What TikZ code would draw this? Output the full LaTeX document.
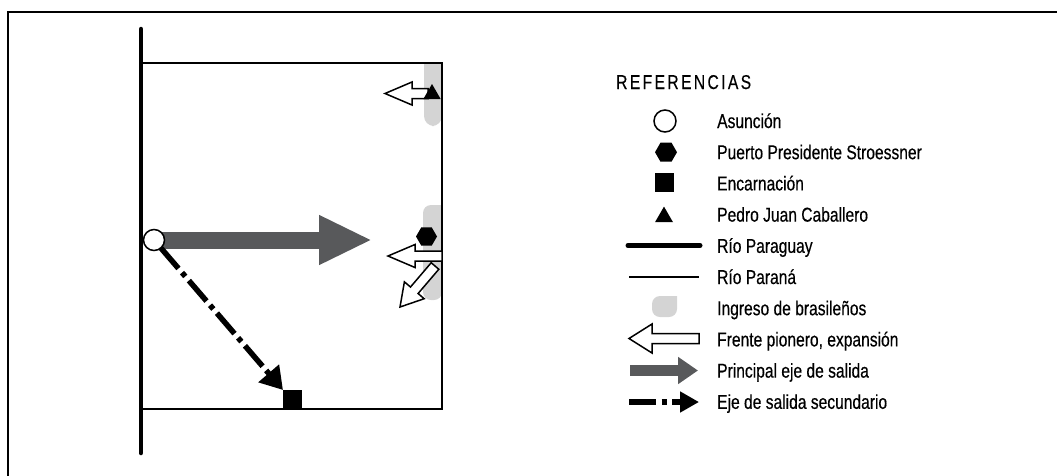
\documentclass[tikz,border=0pt]{standalone}
\usepackage{fontspec}
\setmainfont{Liberation Sans}[FakeStretch=0.78, FakeBold=0.4]
\usetikzlibrary{arrows.meta}
\usetikzlibrary{shapes.geometric}
\usetikzlibrary{calc}
\usetikzlibrary{backgrounds}

\definecolor{ingresogray}{HTML}{D4D4D4}
\definecolor{salidagray}{HTML}{58595B}

\tikzset{
  every node/.append style={font=\fontsize{20}{22}\selectfont},
  every path/.append style={line join=miter}
}
\tikzstyle{marco} = [line width=2.5pt]
\tikzstyle{rioparaguay} = [line width=4.5pt, line cap=round]
\tikzstyle{rioparana} = [line width=2pt]
\tikzstyle{ingreso} = [fill=ingresogray]
\tikzstyle{frente} = [draw=black, fill=white, line width=1.5pt]
\tikzstyle{principal} = [draw=salidagray, line width=17pt, -{Triangle[length=53pt, width=46pt]}]
\tikzstyle{secundario} = [line width=5.5pt, dash pattern=on 27pt off 5.5pt on 5pt off 5.5pt, -{Triangle[length=22pt, width=26pt]}]
\tikzstyle{ciudad} = [inner sep=0pt, outer sep=0pt, fill=black]
\tikzstyle{leyenda} = [anchor=base west, inner sep=0pt]

\newcommand\frente[6]{
  % #1 - name of the arrow
  % #2 - start of the shaft
  % #3 - tip
  % #4 - half width of the shaft
  % #5 - half width of the head
  % #6 - length of the head
  % for example: \frente{f1}{428,94}{385,94}{5pt}{11pt}{27pt}
  \coordinate (#1-b) at ($(#3)!#6!(#2)$);
  \draw[frente] ($(#2)!#4!90:(#3)$) -- ($(#1-b)!#4!90:(#3)$) -- ($(#1-b)!#5!90:(#3)$)
    -- (#3) -- ($(#1-b)!#5!-90:(#3)$) -- ($(#1-b)!#4!-90:(#3)$) -- ($(#2)!#4!-90:(#3)$) -- cycle;
}

\begin{document}
\begin{tikzpicture}[x=1pt, y=-1pt]
  \useasboundingbox (0,0) rectangle (1057,475);
  \draw[marco] (8,476) -- (8,12) -- (1058,12);

  % zones of brazilian settlers
  \fill[ingreso] (442,63) -- (424,63) {[rounded corners=10pt] -- (424,126) -- (442,126)} -- cycle;
  \fill[ingreso] (442,205) {[rounded corners=8pt] -- (423,205) -- (423,300) -- (442,300)} -- cycle;

  % rivers
  \draw[rioparaguay] (141,29) -- (141,453);
  \draw[rioparana] (141,63) -- (442,63) -- (442,409) -- (141,409);

  % pioneer fronts
  \frente{f1}{428,93.5}{385,93.5}{5pt}{11.5pt}{27pt}
  \frente{f3}{435,266}{400,307}{5pt}{13pt}{22pt}
  \frente{f2}{442,256}{388,256}{5pt}{11.5pt}{27pt}

  % cities
  \node[ciudad, circle, draw=black, fill=white, line width=1.5pt, minimum size=21pt] (asuncion) at (154,240) {};
  \node[ciudad, minimum size=19pt] (encarnacion) at (292.5,399.5) {};
  \node[ciudad, regular polygon, regular polygon sides=6, minimum size=21pt] (puerto) at (426.5,236.5) {};
  \node[ciudad, regular polygon, regular polygon sides=3, minimum size=20pt] (pedrojuan) at (432,94) {};

  \coordinate (salida) at (372,240);
  \begin{scope}[on background layer]
    \draw[principal] (asuncion.center) -- (salida);
  \end{scope}
  \draw[secundario] (asuncion) -- (encarnacion.north west);

  % legend
  \node[leyenda] (titulo) at (616,89) {\addfontfeature{LetterSpace=12}REFERENCIAS};

  \node[ciudad, circle, draw=black, fill=white, line width=1.5pt, minimum size=22pt] (leg-asu) at (665,121) {};
  \node[leyenda] (txt-asu) at (717,128) {Asunción};

  \node[ciudad, regular polygon, regular polygon sides=6, minimum size=22pt] (leg-pue) at (666,152.2) {};
  \node[leyenda] (txt-pue) at (717,159.2) {Puerto Presidente Stroessner};

  \node[ciudad, minimum size=19pt] (leg-enc) at (664.5,182.5) {};
  \node[leyenda] (txt-enc) at (717,190.4) {Encarnación};

  \node[ciudad, regular polygon, regular polygon sides=3, minimum size=20.8pt] (leg-ped) at (664,217) {};
  \node[leyenda] (txt-ped) at (717,221.6) {Pedro Juan Caballero};

  \draw[rioparaguay, line width=5pt] (628,245.5) -- (700,245.5);
  \node[leyenda] (txt-pya) at (717,252.8) {Río Paraguay};

  \draw[rioparana] (629,276.5) -- (699,276.5);
  \node[leyenda] (txt-pna) at (717,284) {Río Paraná};

  \fill[ingreso] (677,296) {[rounded corners=8pt] -- (652,296) -- (652,317) -- (677,317)} -- cycle;
  \node[leyenda] (txt-ing) at (717,315.2) {Ingreso de brasileños};

  \frente{fl}{699,338.5}{629,338.5}{5pt}{14.5pt}{23pt}
  \node[leyenda] (txt-fre) at (717,346.4) {Frente pionero, expansión};

  \draw[principal, line width=11pt, -{Triangle[length=20pt, width=26pt]}] (630,370.5) -- (698,370.5);
  \node[leyenda] (txt-pri) at (717,377.6) {Principal eje de salida};

  \draw[secundario, -{Triangle[length=19pt, width=20pt]}] (629,402) -- (699,402);
  \node[leyenda] (txt-sec) at (717,408.8) {Eje de salida secundario};
\end{tikzpicture}
\end{document}
